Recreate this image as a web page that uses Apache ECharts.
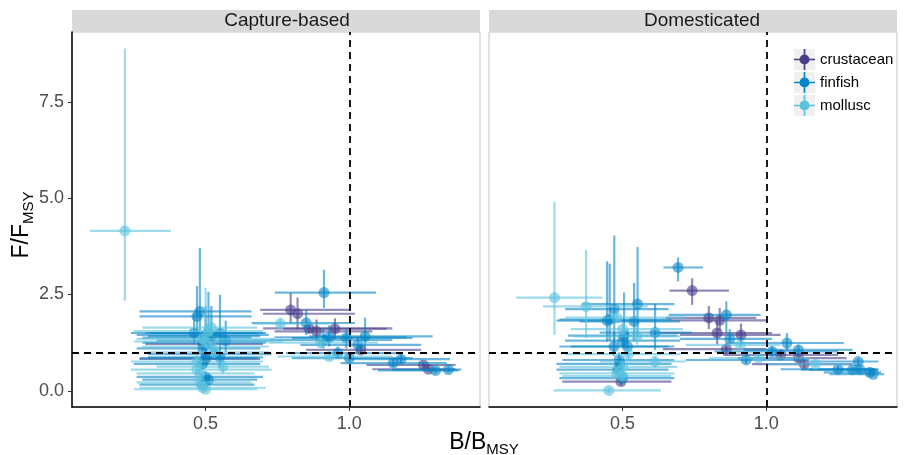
<!DOCTYPE html>
<html>
<head>
<meta charset="utf-8">
<script src="https://cdn.jsdelivr.net/npm/echarts@6/dist/echarts.min.js"></script>
<style>
  html, body { margin: 0; padding: 0; background: #fff; }
  #chart { width: 904px; height: 455px; }
</style>
</head>
<body>
<div id="chart"></div>
<script>
// each row: [B/Bmsy, F/Fmsy, B low, B high, F low, F high]
var panels = ["Capture-based", "Domesticated"];
var groups = ["crustacean", "finfish", "mollusc"];
var groupColors = ["#483D8B", "#0686C6", "#5BC3DF"];

var captureCrustacean = [
  [0.50, 0.83, 0.27, 0.69, 0.70, 1.00],
  [0.49, 1.22, 0.29, 0.70, 1.10, 1.35],
  [0.796, 2.10, 0.69, 1.00, 1.76, 2.54],
  [0.82, 2.00, 0.70, 1.02, 1.60, 2.42],
  [0.86, 1.62, 0.70, 1.15, 1.50, 1.75],
  [0.886, 1.54, 0.74, 1.08, 1.30, 1.85],
  [0.95, 1.61, 0.77, 1.13, 1.35, 1.88],
  [1.04, 1.06, 0.85, 1.25, 0.95, 1.20],
  [1.258, 0.67, 1.06, 1.37, 0.60, 0.75],
  [1.275, 0.56, 1.08, 1.37, 0.50, 0.65]
];
var captureFinfish = [
  [0.48, 2.06, 0.27, 0.66, 1.55, 3.71],
  [0.47, 1.93, 0.27, 0.66, 1.50, 2.72],
  [0.46, 1.50, 0.24, 0.68, 1.20, 2.00],
  [0.51, 1.50, 0.29, 0.70, 1.10, 2.57],
  [0.55, 1.50, 0.31, 0.71, 1.20, 2.49],
  [0.50, 1.45, 0.26, 0.72, 1.30, 1.65],
  [0.52, 1.42, 0.30, 0.69, 1.25, 2.20],
  [0.50, 1.38, 0.28, 0.66, 1.00, 2.20],
  [0.57, 1.30, 0.33, 0.72, 1.00, 1.82],
  [0.51, 1.25, 0.28, 0.71, 1.10, 1.45],
  [0.49, 1.10, 0.26, 0.69, 0.90, 1.40],
  [0.53, 0.95, 0.30, 0.73, 0.80, 1.10],
  [0.50, 0.85, 0.27, 0.68, 0.60, 1.20],
  [0.55, 0.87, 0.30, 0.70, 0.60, 1.20],
  [0.49, 0.70, 0.25, 0.69, 0.55, 0.85],
  [0.51, 0.29, 0.28, 0.68, 0.15, 0.45],
  [0.50, 0.36, 0.26, 0.70, 0.25, 0.50],
  [0.49, 0.16, 0.27, 0.67, 0.05, 0.30],
  [0.912, 2.55, 0.741, 1.093, 2.15, 3.14],
  [0.85, 1.76, 0.66, 1.02, 1.45, 2.10],
  [0.91, 1.32, 0.72, 1.15, 1.10, 1.60],
  [0.93, 1.39, 0.74, 1.20, 1.15, 1.70],
  [0.99, 1.37, 0.80, 1.22, 1.10, 1.60],
  [1.055, 1.41, 0.86, 1.29, 1.10, 1.90],
  [1.03, 1.19, 0.83, 1.25, 1.00, 1.40],
  [0.96, 0.98, 0.78, 1.18, 0.85, 1.15],
  [1.00, 0.85, 0.80, 1.22, 0.75, 1.00],
  [1.153, 0.72, 0.97, 1.34, 0.62, 0.82],
  [1.18, 0.82, 1.00, 1.35, 0.70, 0.95],
  [1.30, 0.53, 1.10, 1.38, 0.45, 0.62],
  [1.345, 0.55, 1.15, 1.39, 0.48, 0.63]
];
var captureMollusc = [
  [0.219, 4.15, 0.097, 0.379, 2.34, 8.88],
  [0.49, 0.08, 0.27, 0.71, 0.00, 0.20],
  [0.50, 0.04, 0.25, 0.68, -0.02, 0.12],
  [0.48, 0.22, 0.26, 0.66, 0.12, 0.32],
  [0.47, 0.55, 0.24, 0.73, 0.40, 0.75],
  [0.56, 0.63, 0.33, 0.72, 0.45, 0.80],
  [0.50, 1.28, 0.25, 0.77, 1.10, 2.67],
  [0.48, 0.45, 0.26, 0.67, 0.30, 0.60],
  [0.52, 1.64, 0.28, 0.68, 1.40, 1.90],
  [0.51, 1.55, 0.25, 0.70, 1.40, 1.75],
  [0.49, 1.35, 0.26, 0.74, 1.20, 1.50],
  [0.52, 1.15, 0.28, 0.72, 1.00, 1.30],
  [0.47, 0.76, 0.24, 0.70, 0.60, 0.95],
  [0.53, 1.00, 0.30, 0.72, 0.85, 1.20],
  [0.76, 1.74, 0.665, 0.93, 1.60, 1.90],
  [0.90, 1.25, 0.72, 1.10, 1.10, 1.40],
  [0.93, 0.89, 0.75, 1.15, 0.80, 1.00]
];

var domCrustacean = [
  [0.494, 0.24, 0.29, 0.67, 0.15, 0.35],
  [0.742, 2.60, 0.663, 0.87, 2.23, 2.92],
  [0.80, 1.89, 0.65, 0.965, 1.60, 2.20],
  [0.838, 1.83, 0.66, 1.00, 1.55, 2.15],
  [0.829, 1.50, 0.63, 1.02, 1.20, 1.80],
  [0.912, 1.45, 0.70, 1.05, 1.20, 1.75],
  [0.861, 1.08, 0.64, 1.00, 0.95, 1.25],
  [1.05, 0.93, 0.85, 1.25, 0.85, 1.05],
  [1.112, 0.85, 0.90, 1.28, 0.75, 0.95],
  [1.132, 0.69, 0.95, 1.30, 0.60, 0.80]
];
var domFinfish = [
  [0.471, 2.12, 0.30, 0.66, 1.30, 4.03],
  [0.552, 2.25, 0.36, 0.68, 1.40, 3.73],
  [0.446, 1.82, 0.27, 0.66, 1.28, 3.36],
  [0.455, 1.85, 0.28, 0.67, 1.30, 3.30],
  [0.54, 1.80, 0.35, 0.70, 1.30, 2.80],
  [0.613, 1.51, 0.42, 0.74, 1.06, 2.26],
  [0.505, 1.43, 0.31, 0.69, 1.10, 2.55],
  [0.47, 1.15, 0.28, 0.66, 0.90, 1.50],
  [0.517, 1.15, 0.32, 0.68, 0.90, 1.60],
  [0.50, 1.30, 0.30, 0.70, 1.15, 1.45],
  [0.488, 0.80, 0.29, 0.68, 0.60, 1.00],
  [0.49, 0.70, 0.27, 0.67, 0.60, 0.80],
  [0.483, 0.55, 0.27, 0.66, 0.40, 0.75],
  [0.50, 0.33, 0.28, 0.68, 0.20, 0.50],
  [0.693, 3.20, 0.642, 0.78, 2.84, 3.46],
  [0.861, 1.97, 0.66, 0.98, 1.50, 2.32],
  [0.873, 1.35, 0.70, 1.02, 1.15, 1.60],
  [0.93, 0.80, 0.72, 1.15, 0.70, 0.95],
  [1.02, 1.02, 0.82, 1.25, 0.90, 1.15],
  [1.072, 1.24, 0.88, 1.27, 1.05, 1.50],
  [1.112, 1.06, 0.92, 1.30, 0.95, 1.20],
  [1.25, 0.56, 1.05, 1.38, 0.50, 0.65],
  [1.30, 0.55, 1.12, 1.39, 0.50, 0.62],
  [1.32, 0.76, 1.15, 1.39, 0.65, 0.85],
  [1.326, 0.55, 1.15, 1.39, 0.48, 0.62],
  [1.36, 0.48, 1.20, 1.40, 0.42, 0.55],
  [1.372, 0.43, 1.22, 1.41, 0.38, 0.50]
];
var domMollusc = [
  [0.263, 2.42, 0.13, 0.43, 1.45, 4.91],
  [0.373, 2.19, 0.223, 0.587, 1.37, 3.66],
  [0.48, 1.90, 0.30, 0.72, 1.75, 2.05],
  [0.55, 1.41, 0.33, 0.70, 1.20, 1.70],
  [0.50, 1.60, 0.32, 0.71, 1.45, 1.75],
  [0.52, 0.95, 0.30, 0.70, 0.80, 1.10],
  [0.613, 0.76, 0.42, 0.72, 0.60, 0.90],
  [0.50, 0.62, 0.28, 0.69, 0.50, 0.75],
  [0.48, 0.45, 0.28, 0.68, 0.35, 0.60],
  [0.50, 0.38, 0.29, 0.67, 0.28, 0.48],
  [0.452, 0.01, 0.26, 0.633, -0.05, 0.08],
  [0.91, 1.19, 0.72, 1.05, 1.10, 1.30],
  [0.973, 0.85, 0.80, 1.15, 0.78, 0.95],
  [1.172, 0.69, 1.00, 1.30, 0.62, 0.78]
];

var xTicks = [0.5, 1.0];
var yTicks = [0, 2.5, 5, 7.5];
var refB = 1, refF = 1;

var panelData = [
  [captureCrustacean, captureFinfish, captureMollusc],
  [domCrustacean, domFinfish, domMollusc]
];

var font = "'Liberation Sans', Arial, sans-serif";
var chart = echarts.init(document.getElementById("chart"));

function renderBars(params, api) {
  var color = api.visual("color");
  var b = api.value(0), f = api.value(1);
  var c = api.coord([b, f]);
  var l = api.coord([api.value(2), f]);
  var r = api.coord([api.value(3), f]);
  var lo = api.coord([b, api.value(4)]);
  var hi = api.coord([b, api.value(5)]);
  return {
    type: "group",
    children: [
      { type: "line", shape: { x1: l[0], y1: l[1], x2: r[0], y2: r[1] },
        style: { stroke: color, lineWidth: 2.2, opacity: 0.6 } },
      { type: "line", shape: { x1: lo[0], y1: lo[1], x2: hi[0], y2: hi[1] },
        style: { stroke: color, lineWidth: 2.2, opacity: 0.6 } },
      { type: "circle", shape: { cx: c[0], cy: c[1], r: 5.5 },
        style: { fill: color, opacity: 0.6 } }
    ]
  };
}

var grids = [], xAxes = [], yAxes = [], series = [];
panels.forEach(function (name, p) {
  grids.push({ left: p === 0 ? 72 : 489, top: 32, width: 408, height: 375,
    show: true, borderColor: "#c4c4c4", borderWidth: 1, backgroundColor: "#fff" });
  xAxes.push({
    gridIndex: p, type: "value", min: 0.035, max: 1.455,
    splitLine: { show: false },
    axisLine: { show: true, onZero: false, lineStyle: { color: "#000", width: 1.5 } },
    axisTick: { show: true, length: 4, lineStyle: { color: "#333" }, customValues: xTicks },
    axisLabel: { color: "#4d4d4d", fontSize: 18, fontFamily: font, margin: 8,
      customValues: xTicks, formatter: function (v) { return v.toFixed(1); } }
  });
  yAxes.push({
    gridIndex: p, type: "value", min: -0.42, max: 9.31,
    splitLine: { show: false },
    axisLine: { show: p === 0, onZero: false, lineStyle: { color: "#000", width: 1.5 } },
    axisTick: { show: p === 0, length: 4, lineStyle: { color: "#333" }, customValues: yTicks },
    axisLabel: { show: p === 0, color: "#4d4d4d", fontSize: 18, fontFamily: font, margin: 8,
      customValues: yTicks, formatter: function (v) { return v.toFixed(1); } }
  });
  groups.forEach(function (g, k) {
    series.push({
      name: g, type: "custom", xAxisIndex: p, yAxisIndex: p,
      itemStyle: { color: groupColors[k] },
      encode: { x: 0, y: 1 },
      renderItem: renderBars,
      data: panelData[p][k],
      z: 2
    });
  });
  series.push({
    type: "line", xAxisIndex: p, yAxisIndex: p, data: [], silent: true, z: 5,
    markLine: {
      symbol: "none", silent: true, label: { show: false },
      lineStyle: { color: "#000", type: [7, 5], width: 1.8 },
      data: [{ xAxis: refB }, { yAxis: refF }]
    }
  });
});

var crossIcon = "path://M0,9.2H20V10.8H0Z M9.2,0H10.8V20H9.2Z M10,5.2A4.8,4.8,0,1,1,9.99,5.2Z";

var graphics = [];
panels.forEach(function (name, p) {
  var x0 = p === 0 ? 72 : 489;
  graphics.push({ type: "rect", left: x0, top: 10, z: 0,
    shape: { width: 408, height: 22 }, style: { fill: "#d9d9d9" } });
  graphics.push({ type: "text", x: p === 0 ? 287 : 702, y: 21, z: 1,
    style: { text: name, fill: "#1a1a1a", font: "19px " + font, align: "center", verticalAlign: "middle" } });
});
groups.forEach(function (g, k) {
  graphics.push({ type: "rect", left: 794, top: 49 + k * 23, z: 0,
    shape: { width: 21, height: 21 }, style: { fill: "#f0f0f0" } });
});
graphics.push({ type: "text", x: 484, y: 443, z: 1,
  style: { text: "{a|B/B}{s|MSY}", align: "center", verticalAlign: "middle",
    rich: { a: { fontSize: 23, fontFamily: font, fill: "#000", lineHeight: 28 },
            s: { fontSize: 15, fontFamily: font, fill: "#000", lineHeight: 28, padding: [14, 0, 0, 0] } } } });
graphics.push({ type: "text", x: 22, y: 225, rotation: Math.PI / 2, z: 1,
  style: { text: "{a|F/F}{s|MSY}", align: "center", verticalAlign: "middle",
    rich: { a: { fontSize: 23, fontFamily: font, fill: "#000", lineHeight: 28 },
            s: { fontSize: 15, fontFamily: font, fill: "#000", lineHeight: 28, padding: [14, 0, 0, 0] } } } });

chart.setOption({
  animation: false,
  backgroundColor: "#fff",
  grid: grids,
  xAxis: xAxes,
  yAxis: yAxes,
  legend: {
    orient: "vertical", left: 794, top: 49, padding: 0,
    itemWidth: 21, itemHeight: 21, itemGap: 2,
    textStyle: { fontSize: 15, fontFamily: font, color: "#000" },
    data: groups.map(function (g) { return { name: g, icon: crossIcon }; })
  },
  graphic: graphics,
  series: series
});
</script>
</body>
</html>
